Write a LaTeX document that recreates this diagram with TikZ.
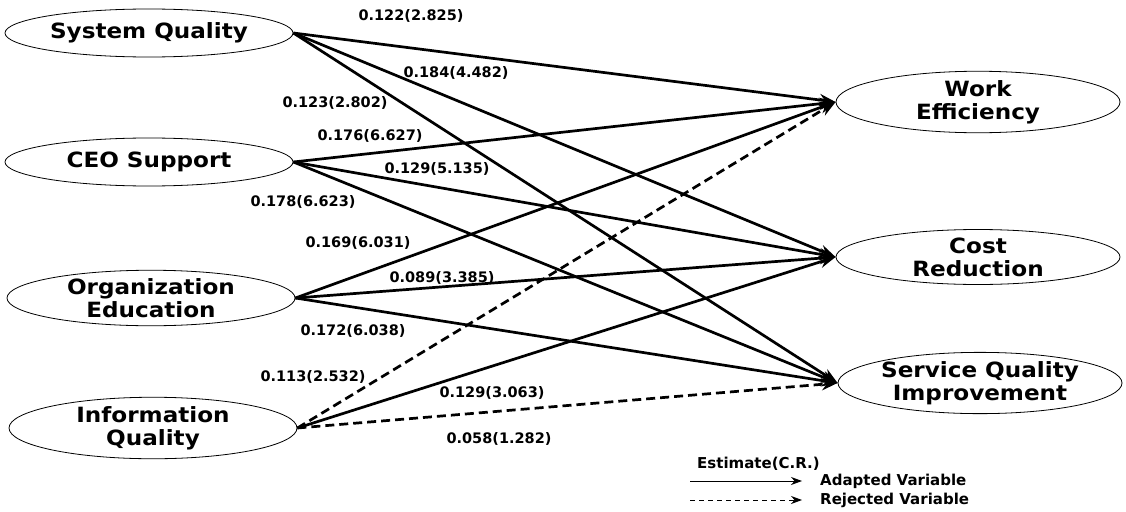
\documentclass[tikz,border=0pt]{standalone}
\usepackage{fontspec}
\setmainfont{DejaVu Sans}
\newfontfamily\varfont{DejaVu Sans}[FakeStretch=1.1]
\usetikzlibrary{shapes.geometric,arrows.meta}

\tikzset{
  latent/.style={ellipse, draw, line width=0.8pt, inner sep=0pt,
    minimum width=288pt, minimum height=48pt, align=center,
    font=\varfont\bfseries\fontsize{21}{23}\selectfont},
  outcome/.style={latent, minimum width=284pt, minimum height=52pt},
  effect/.style={line width=2.7pt, -{Stealth[length=16pt,width=12pt]}},
  rejected/.style={effect, dash pattern=on 9pt off 5pt},
  est/.style={font=\bfseries\fontsize{14.5}{16}\selectfont, inner sep=1pt},
  legendtext/.style={font=\bfseries\fontsize{15}{17}\selectfont, anchor=west, inner sep=0pt},
  legendline/.style={line width=0.8pt, -{Stealth[length=11pt,width=8pt]}}
}

\begin{document}
\begin{tikzpicture}[x=1pt,y=-1pt]
\useasboundingbox (0,0) rectangle (1126,511);

% exogenous constructs
\node[latent] (sq)  at (149,33)  {System Quality};
\node[latent] (ceo) at (149,162) {CEO Support};
\node[latent] (oe)  at (151,298) {Organization\\Education};
\node[latent] (iq)  at (153,428) {Information\\Quality};

% endogenous constructs
\node[outcome] (we)  at (978,102) {Work\\Efficiency};
\node[outcome] (cr)  at (978,257) {Cost\\Reduction};
\node[outcome] (sqi) at (980,383) {Service Quality\\Improvement};

% structural paths
\draw[effect] (sq.east) -- (we.west);
\draw[effect] (sq.east) -- (cr.west);
\draw[effect] (sq.east) -- (sqi.west);
\draw[effect] (ceo.east) -- (we.west);
\draw[effect] (ceo.east) -- (cr.west);
\draw[effect] (ceo.east) -- (sqi.west);
\draw[effect] (oe.east) -- (we.west);
\draw[effect] (oe.east) -- (cr.west);
\draw[effect] (oe.east) -- (sqi.west);
\draw[rejected] (iq.east) -- (we.west);
\draw[effect] (iq.east) -- (cr.west);
\draw[rejected] (iq.east) -- (sqi.west);

% path estimates with critical ratios
\node[est] (e1)  at (411,16)  {0.122(2.825)};
\node[est] (e2)  at (456,73)  {0.184(4.482)};
\node[est] (e3)  at (335,103) {0.123(2.802)};
\node[est] (e4)  at (370,136) {0.176(6.627)};
\node[est] (e5)  at (437,169) {0.129(5.135)};
\node[est] (e6)  at (303,202) {0.178(6.623)};
\node[est] (e7)  at (358,243) {0.169(6.031)};
\node[est] (e8)  at (442,278) {0.089(3.385)};
\node[est] (e9)  at (353,331) {0.172(6.038)};
\node[est] (e10) at (313,377) {0.113(2.532)};
\node[est] (e11) at (492,393) {0.129(3.063)};
\node[est] (e12) at (499,439) {0.058(1.282)};

% legend
\node[legendtext] (lt) at (697,464) {Estimate(C.R.)};
\coordinate (a0) at (690,481);
\coordinate (a1) at (802,481);
\coordinate (r0) at (690,500);
\coordinate (r1) at (802,500);
\draw[legendline] (a0) -- (a1);
\draw[legendline, dash pattern=on 5pt off 4pt] (r0) -- (r1);
\node[legendtext] (la) at (820,481) {Adapted Variable};
\node[legendtext] (lr) at (820,500) {Rejected Variable};
\end{tikzpicture}
\end{document}
